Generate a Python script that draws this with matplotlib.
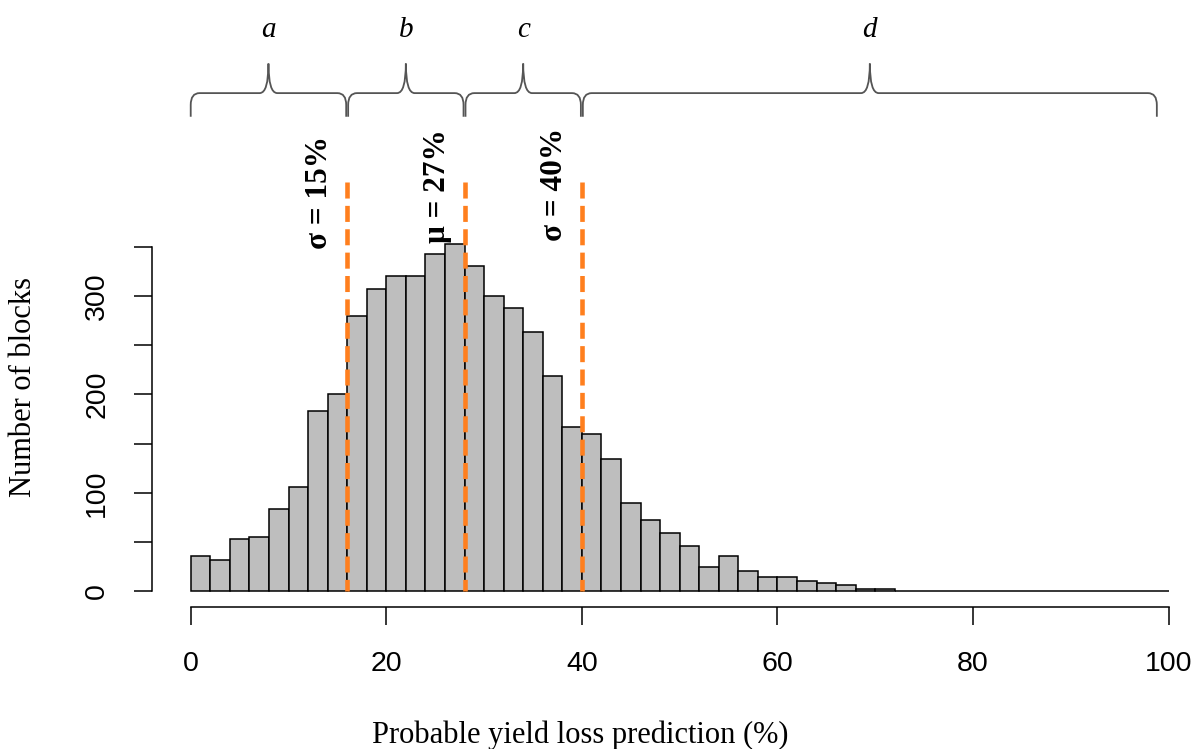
import matplotlib
matplotlib.use("Agg")
import matplotlib.pyplot as plt
from matplotlib.path import Path
from matplotlib.patches import PathPatch
import numpy as np

# histogram data (bins of width 2 from 0 to 100)
bin_edges = np.arange(0, 101, 2)
counts = [36, 32, 53, 55, 84, 106, 183, 200, 280, 307,
          320, 320, 343, 353, 330, 300, 288, 263, 219, 167,
          160, 135, 90, 73, 59, 46, 25, 36, 21, 15,
          15, 11, 9, 7, 3, 3, 0, 1, 0, 0,
          0, 0, 0, 0, 0, 0, 0, 0, 0, 1]

# reference lines and their labels
ref_x = [16, 28, 40]
ref_labels = ["σ = 15%", "μ = 27%", "σ = 40%"]

# groups shown with braces above the plot
groups = ["a", "b", "c", "d"]
group_start = [0, 16.1, 28.1, 40.1]
group_end = [15.9, 27.9, 39.9, 98.8]

serif = ["Liberation Serif", "DejaVu Serif"]
sans = ["Liberation Sans", "DejaVu Sans"]
orange = "#FF7F1E"

fig = plt.figure(figsize=(12.01, 7.49), dpi=100)
ax = fig.add_axes([0.1588, 0.2103, 0.8142, 0.5523])

ax.bar(bin_edges[:-1], counts, width=2, align="edge", color="#BEBEBE",
       edgecolor="black", linewidth=1.1, clip_on=False, zorder=2)

ax.set_xlim(0, 100)
ax.set_ylim(0, 420)

for s in ["top", "right"]:
    ax.spines[s].set_visible(False)
ax.spines["left"].set_position(("outward", 28))
ax.spines["bottom"].set_position(("outward", 11.5))
ax.spines["left"].set_bounds(0, 350)
ax.spines["bottom"].set_bounds(0, 100)
for s in ["left", "bottom"]:
    ax.spines[s].set_linewidth(1.1)

ax.set_xticks([0, 20, 40, 60, 80, 100])
ax.set_yticks([0, 100, 200, 300])
ax.set_yticks([50, 150, 250, 350], minor=True)
ax.tick_params(axis="both", which="both", length=13, width=1.1,
               labelsize=20.5, colors="black")
ax.tick_params(axis="x", pad=18)
ax.tick_params(axis="y", pad=17)
for lab in ax.get_xticklabels():
    lab.set_family(sans)
for lab in ax.get_yticklabels():
    lab.set_family(sans)
    lab.set_rotation(90)
    lab.set_va("center")

# dashed reference lines with rotated labels
label_y = [405, 412, 413]
for xv, txt, ty in zip(ref_x, ref_labels, label_y):
    ax.plot([xv, xv], [416, 0], color=orange, linewidth=3.3,
            linestyle=(0, (3.5, 1.6)), zorder=3, clip_on=False)
    ax.text(xv - 2.8, ty, txt, rotation=90, ha="center", va="center",
            family=serif, fontweight="bold", fontsize=22.5)

# curly braces above
y_line, y_bot, y_peak = 506, 482, 536
rx, ry = 0.9, 12
for g, x0, x1 in zip(groups, group_start, group_end):
    xm = (x0 + x1) / 2
    verts = [(x0, y_bot), (x0, y_line - ry), (x0, y_line), (x0 + rx, y_line),
             (xm - rx, y_line), (xm, y_line), (xm, y_peak),
             (xm, y_line), (xm + rx, y_line),
             (x1 - rx, y_line), (x1, y_line), (x1, y_line - ry), (x1, y_bot)]
    codes = [Path.MOVETO, Path.LINETO, Path.CURVE3, Path.CURVE3,
             Path.LINETO, Path.CURVE3, Path.CURVE3,
             Path.CURVE3, Path.CURVE3,
             Path.LINETO, Path.CURVE3, Path.CURVE3, Path.LINETO]
    ax.add_patch(PathPatch(Path(verts, codes), facecolor="none",
                           edgecolor="#555555", linewidth=1.3, clip_on=False))
    ax.text(xm, 570, g, ha="center", va="center", family=serif,
            style="italic", fontsize=21)

fig.text(24 / 1201, 1 - 387 / 749, "Number of blocks", rotation=90,
         ha="center", va="center", family=serif, fontsize=22)
fig.text(580 / 1201, 1 - 735 / 749, "Probable yield loss prediction (%)",
         ha="center", va="center", family=serif, fontsize=22)

fig.savefig("out.png", dpi=100)
